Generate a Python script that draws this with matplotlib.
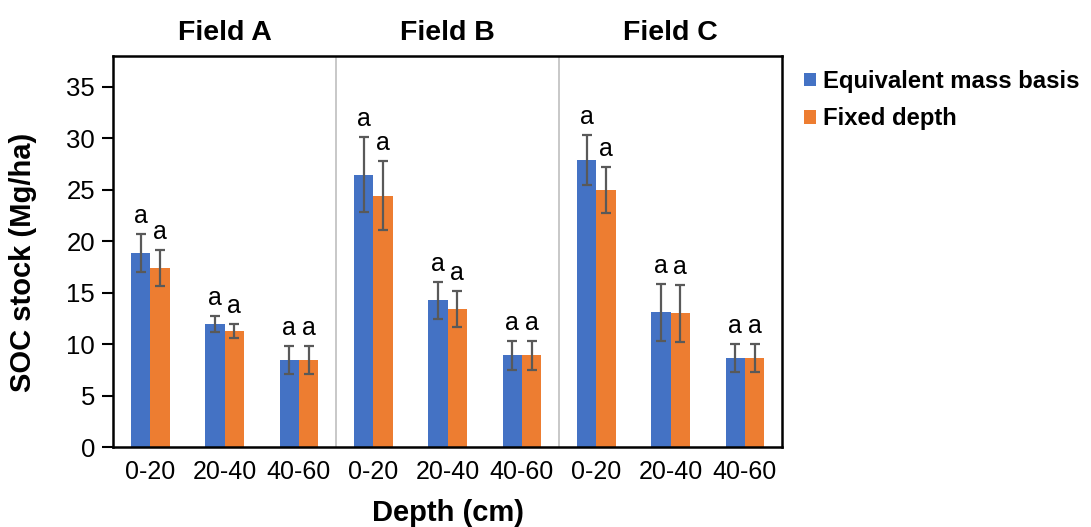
import matplotlib
matplotlib.use("Agg")
from matplotlib import pyplot as plt
import numpy as np

plt.rcParams['font.family'] = ['Liberation Sans', 'DejaVu Sans']

fields = ["Field A", "Field B", "Field C"]
depths = ["0-20", "20-40", "40-60"]
series = ["Equivalent mass basis", "Fixed depth"]

emb_mean = [18.85, 11.93, 8.47, 26.45, 14.26, 8.92, 27.87, 13.1, 8.66]
emb_err = [1.85, 0.78, 1.35, 3.65, 1.8, 1.4, 2.45, 2.75, 1.35]
fd_mean = [17.36, 11.25, 8.47, 24.4, 13.38, 8.92, 24.99, 13.0, 8.66]
fd_err = [1.75, 0.7, 1.35, 3.35, 1.75, 1.4, 2.2, 2.75, 1.35]
emb_letters = ["a"] * 9
fd_letters = ["a"] * 9

blue = "#4472C4"
orange = "#ED7D31"

fig = plt.figure(figsize=(10.91, 5.27), dpi=100)
ax = fig.add_axes([0.1036, 0.1518, 0.6132, 0.7419])

x = np.arange(len(emb_mean))
w = 0.26
err_kw = dict(ecolor="#595959", elinewidth=1.6, capsize=3.5, capthick=1.6)
ax.bar(x - w / 2, emb_mean, w, yerr=emb_err, color=blue, label=series[0], error_kw=err_kw)
ax.bar(x + w / 2, fd_mean, w, yerr=fd_err, color=orange, label=series[1], error_kw=err_kw)

for i in range(len(x)):
    ax.text(x[i] - w / 2, emb_mean[i] + emb_err[i] + 0.6, emb_letters[i],
            ha="center", va="bottom", fontsize=18)
    ax.text(x[i] + w / 2, fd_mean[i] + fd_err[i] + 0.6, fd_letters[i],
            ha="center", va="bottom", fontsize=18)

# separators between fields
for b in [2.5, 5.5]:
    ax.axvline(b, color="#BFBFBF", lw=1.2, zorder=0)

for k, f in enumerate(fields):
    ax.text(3 * k + 1, 1.025, f, transform=ax.get_xaxis_transform(),
            ha="center", va="bottom", fontsize=20.5, fontweight="bold")

ax.set_xlim(-0.5, 8.5)
ax.set_ylim(0, 38)
ax.set_yticks(range(0, 40, 5))
ax.set_xticks(x)
ax.set_xticklabels(depths * 3)
ax.tick_params(axis="y", labelsize=18.5, length=8, width=1.5, pad=5)
ax.tick_params(axis="x", labelsize=18, length=0, pad=9)
for s in ax.spines.values():
    s.set_linewidth(1.8)
    s.set_color("black")

ax.set_ylabel("SOC stock (Mg/ha)", fontsize=21, fontweight="bold")
ax.yaxis.set_label_coords(-0.1136, 0.473)
ax.set_xlabel("Depth (cm)", fontsize=21, fontweight="bold", labelpad=11)

fig.legend(loc="upper left", bbox_to_anchor=(0.7285, 0.885), frameon=False,
           prop=dict(size=17.2, weight="bold"), handlelength=0.5, handleheight=0.5,
           handletextpad=0.3, labelspacing=0.6, borderaxespad=0)

fig.savefig("out.png", dpi=100)
